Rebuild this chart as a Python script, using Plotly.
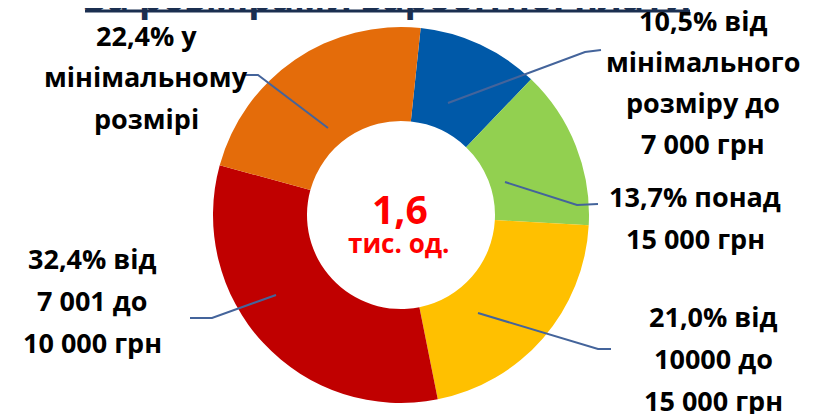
import plotly.graph_objects as go

W, H = 813, 414

categories = ["10,5% від мінімального розміру до 7 000 грн",
              "13,7% понад 15 000 грн",
              "21,0% від 10000 до 15 000 грн",
              "32,4% від 7 001 до 10 000 грн",
              "22,4% у мінімальному розмірі"]
values = [10.5, 13.7, 21.0, 32.4, 22.4]
colors = ["#0059A8", "#92D050", "#FFC000", "#C00000", "#E46C0A"]

label_lines = [
    ["10,5% від", "мінімального", "розміру до", "7 000 грн"],
    ["13,7% понад", "15 000 грн"],
    ["21,0% від", "10000 до", "15 000 грн"],
    ["32,4% від", "7 001 до", "10 000 грн"],
    ["22,4% у", "мінімальному", "розмірі"],
]
title_text = "За розмірами заробітної плати"
center_value = "1,6"
center_unit = "тис. од."

# layout positions (screen pixels; page body adds an 8px offset)
OFF = 8
cx, cy, r = 401, 215, 188
label_pos = [  # x center, first line y, line step
    (703, 20, 41),
    (695, 196, 42),
    (713, 316, 42),
    (92, 258, 42),
    (146, 36, 41),
]
leaders = [
    [(448, 103), (585, 52), (601, 50)],
    [(505, 182), (577, 205), (598, 204)],
    [(478, 313), (598, 349), (611, 349)],
    [(276, 295), (212, 318), (190, 318)],
    [(328, 128), (258, 75), (243, 75)],
]


def px(x):
    return (x - OFF) / W


def py(y):
    return 1 - (y - OFF) / H


fig = go.Figure(go.Pie(
    labels=categories, values=values, sort=False, direction="clockwise",
    rotation=6, hole=0.5, marker=dict(colors=colors, line=dict(width=0)),
    textinfo="none", hoverinfo="label", showlegend=False,
    domain=dict(x=[px(cx - r), px(cx + r)], y=[py(cy + r), py(cy - r)]),
))

font = "Open Sans"
annotations = []
for (x0, y0, step), lines in zip(label_pos, label_lines):
    for i, t in enumerate(lines):
        annotations.append(dict(
            x=px(x0), y=py(y0 + i * step), xref="paper", yref="paper",
            text="<b>" + t + "</b>", showarrow=False, xanchor="center",
            yanchor="middle", font=dict(family=font, size=27, color="black")))

annotations.append(dict(x=px(400), y=py(209), xref="paper", yref="paper",
                        text="<b>" + center_value + "</b>", showarrow=False,
                        font=dict(family=font, size=39, color="#FF0000"),
                        xanchor="center", yanchor="middle"))
annotations.append(dict(x=px(398), y=py(243), xref="paper", yref="paper",
                        text="<b>" + center_unit + "</b>", showarrow=False,
                        font=dict(family=font, size=26, color="#FF0000"),
                        xanchor="center", yanchor="middle"))
annotations.append(dict(x=px(387), y=py(24), xref="paper", yref="paper",
                        text="<b>" + title_text + "</b>", showarrow=False,
                        font=dict(family=font, size=37, color="#1B2F50"),
                        xanchor="center", yanchor="bottom"))

shapes = [dict(type="line", xref="paper", yref="paper", x0=px(85), x1=px(690),
               y0=py(11), y1=py(11), line=dict(color="#1B2F50", width=3))]
for pts in leaders:
    path = "M " + " L ".join(f"{px(a)},{py(b)}" for a, b in pts)
    shapes.append(dict(type="path", xref="paper", yref="paper", path=path,
                       line=dict(color="#44649B", width=2)))

fig.update_layout(width=W, height=H, margin=dict(l=0, r=0, t=0, b=0),
                  paper_bgcolor="white", plot_bgcolor="white",
                  annotations=annotations, shapes=shapes)
fig.write_html("out.html")
